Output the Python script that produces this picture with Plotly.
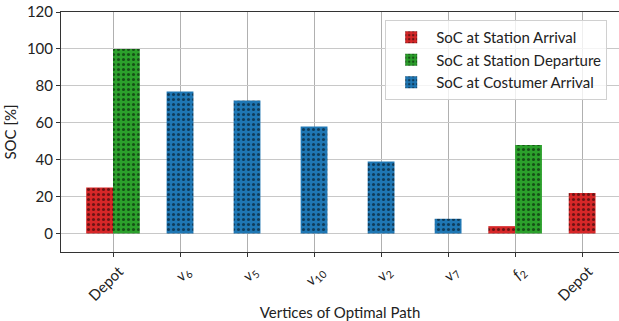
import plotly.graph_objects as go

# ---- data ----
tick_labels = ["Depot", "<i>v</i><sub>6</sub>", "<i>v</i><sub>5</sub>", "<i>v</i><sub>10</sub>",
               "<i>v</i><sub>2</sub>", "<i>v</i><sub>7</sub>", "<i>f</i><sub>2</sub>", "Depot"]
arrival_idx = [0, 6, 7]
arrival_vals = [25, 4, 22]
departure_idx = [0, 6]
departure_vals = [100, 48]
customer_idx = [1, 2, 3, 4, 5]
customer_vals = [77, 72, 58, 39, 8]

RED, GREEN, BLUE = "#d62728", "#2ca02c", "#1f77b4"
W = 0.4
FONT = "Lato"

def pattern():
    return dict(shape=".", fgcolor="black", size=5, solidity=0.3, fillmode="overlay")

# arrival bars: paired ones sit left of the tick, single one centred
arr_offsets = [-W if i in departure_idx else -W / 2 for i in arrival_idx]

fig = go.Figure()
fig.add_trace(go.Bar(x=arrival_idx, y=arrival_vals, name="SoC at Station Arrival",
                     marker=dict(color=RED, line=dict(width=0), pattern=pattern()),
                     width=W, offset=arr_offsets))
fig.add_trace(go.Bar(x=departure_idx, y=departure_vals, name="SoC at Station Departure",
                     marker=dict(color=GREEN, line=dict(width=0), pattern=pattern()),
                     width=W, offset=0))
fig.add_trace(go.Bar(x=customer_idx, y=customer_vals, name="SoC at Costumer Arrival",
                     marker=dict(color=BLUE, line=dict(width=0), pattern=pattern()),
                     width=W, offset=-W / 2))

fig.update_layout(
    width=619, height=321,
    margin=dict(l=61, r=0, t=12, b=69, autoexpand=False),
    paper_bgcolor="white", plot_bgcolor="white",
    font=dict(family=FONT, size=15, color="#222"),
    barmode="overlay",
    showlegend=True,
    legend=dict(x=0.581, y=0.967, xanchor="left", yanchor="top",
                bgcolor="rgba(255,255,255,0.8)", bordercolor="#d0d0d0", borderwidth=1,
                font=dict(family=FONT, size=15), traceorder="normal",
                itemwidth=40),
    xaxis=dict(range=[-0.776, 7.55], tickmode="array", tickvals=list(range(len(tick_labels))),
               ticktext=tick_labels, tickangle=-45, automargin=False, ticklabelshift=6,
               showgrid=True, gridcolor="#b0b0b0", gridwidth=1,
               showline=True, linecolor="#333", linewidth=1, mirror=True,
               ticks="outside", ticklen=4, tickcolor="#333",
               title=dict(text="Vertices of Optimal Path", font=dict(size=15), standoff=4),
               zeroline=False, tickfont=dict(size=15)),
    yaxis=dict(range=[-10, 120], tickvals=[0, 20, 40, 60, 80, 100, 120], automargin=False,
               showgrid=True, gridcolor="#c8c8c8", gridwidth=1,
               showline=True, linecolor="#333", linewidth=1,
               ticks="outside", ticklen=4, tickcolor="#333",
               title=dict(text="SOC [%]", font=dict(size=15), standoff=6),
               zeroline=False, tickfont=dict(size=15)),
)

fig.write_html("out.html", config={"displayModeBar": False},
               post_script="document.body.style.margin='0';document.body.style.overflow='hidden';")
